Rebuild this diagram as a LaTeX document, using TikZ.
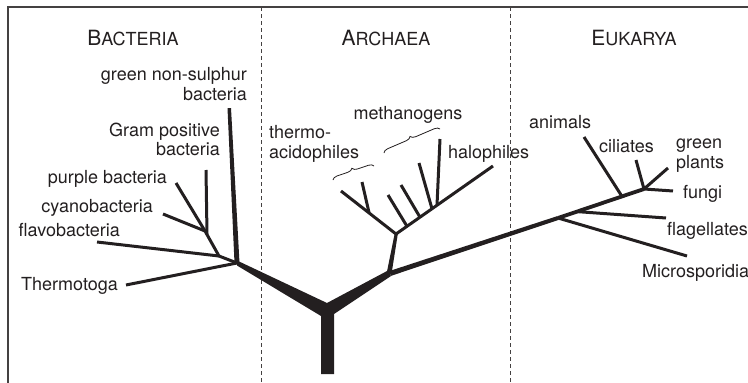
\documentclass[tikz,border=0pt]{standalone}
\usepackage{fontspec}
\setmainfont{TeX Gyre Heros}
\usetikzlibrary{decorations.pathreplacing}
\definecolor{ink}{RGB}{35,31,32}
\newcommand\domname[2]{{\fontsize{21}{21}\selectfont #1}{\fontsize{18}{21}\selectfont #2}}
\begin{document}
\begin{tikzpicture}[x=1pt,y=-1pt,
  br/.style={draw=ink,line width=3pt,line cap=butt,line join=round},
  brthick/.style={draw=ink,line width=3.8pt,line cap=butt,line join=round},
  lbl/.style={inner sep=0pt,text=ink,font=\fontsize{18}{19.5}\selectfont},
  head/.style={inner sep=0pt,text=ink},
  sepline/.style={draw=ink!85,line width=1pt,dash pattern=on 4pt off 3pt},
  frameline/.style={draw=ink!85,line width=1.2pt},
  brc/.style={draw=ink,line width=0.8pt,decorate,decoration={brace,amplitude=5pt}}]
\useasboundingbox (0,0) rectangle (748,383);

% frame and separators
\coordinate (fTL) at (8,7);
\coordinate (fTR) at (748,7);
\coordinate (fBL) at (8,383);
\draw[frameline] (fTR) -- (fTL) -- (fBL);
\coordinate (s1t) at (261,7);
\coordinate (s1b) at (261,383);
\coordinate (s2t) at (510,7);
\coordinate (s2b) at (510,383);
\draw[sepline] (s1t) -- (s1b);
\draw[sepline] (s2t) -- (s2b);

% headings
\node[head,anchor=base] (hB) at (133,45) {\domname{B}{ACTERIA}};
\node[head,anchor=base] (hA) at (386,45) {\domname{A}{RCHAEA}};
\node[head,anchor=base] (hE) at (634,45) {\domname{E}{UKARYA}};

% trunk and the two main limbs
\fill[ink] (237,260.5) -- (327,303) -- (388,270.5) -- (391,276) -- (334,314)
  -- (334,374) -- (321,374) -- (321,316) -- (237,265.5) -- cycle;

% ---------------- Bacteria
\coordinate (b0) at (237,263);
\coordinate (b1) at (219,256);
\coordinate (b2) at (205,231);
\coordinate (tThermo) at (126,285);
\coordinate (tFlavo) at (97,242);
\coordinate (tCyano) at (163,214);
\coordinate (tPurple) at (176,183);
\coordinate (tGram) at (206,170);
\coordinate (gGram) at (207,234);
\draw[br] (tPurple) -- (b2) -- (b1) -- (b0);
\draw[br] (tCyano) -- (b2);
\draw[br] (tFlavo) -- (b1);
\draw[br] (tThermo) -- (b0);
\draw[br] (tGram) -- (gGram);
\fill[ink] (227.5,108) -- (231,108) -- (239.5,263) -- (234.5,263) -- cycle;

\node[lbl,anchor=base east,align=right] (lGreen) at (247,100) {green non-sulphur\\bacteria};
\node[lbl,anchor=base east,align=right] (lGram) at (220,155.5) {Gram positive\\bacteria};
\node[lbl,anchor=base east] (lPurple) at (167,183) {purple bacteria};
\node[lbl,anchor=base east] (lCyano) at (153,212) {cyanobacteria};
\node[lbl,anchor=base east] (lFlavo) at (120,236) {flavobacteria};
\node[lbl,anchor=base east] (lThermo) at (118,290) {Thermotoga};

% ---------------- Archaea
\coordinate (a1) at (389,273);
\coordinate (a0) at (396,234);
\fill[ink] (386.5,274) -- (391.5,274) -- (397.8,234) -- (394.6,234) -- cycle;
\coordinate (aL) at (341,191);
\coordinate (aR) at (493,166);
\draw[br] (aL) -- (a0) -- (aR);
\coordinate (aL1) at (369,212.5);
\coordinate (tA1) at (362,182);
\draw[br] (aL1) -- (tA1);
\coordinate (aR1) at (407,226.3);
\coordinate (tA2) at (388,195);
\coordinate (aR2) at (420,217.2);
\coordinate (tA3) at (401,185);
\coordinate (aR3) at (432,208.8);
\coordinate (tA4) at (419,163);
\coordinate (aR4) at (437,205.3);
\coordinate (tA5) at (440,139);
\draw[br] (aR1) -- (tA2);
\draw[br] (aR2) -- (tA3);
\draw[br] (aR3) -- (tA4);
\draw[br] (aR4) -- (tA5);

\coordinate (brT1) at (333,180);
\coordinate (brT2) at (374,166);
\draw[brc] (brT1) -- (brT2);
\coordinate (brM1) at (384,153);
\coordinate (brM2) at (440,129);
\draw[brc] (brM1) -- (brM2);

\node[lbl,anchor=base] (lMeth) at (408,119) {methanogens};
\node[lbl,anchor=base west,align=left] (lTA) at (269,158) {thermo-\\acidophiles};
\node[lbl,anchor=base west] (lHalo) at (448,158) {halophiles};

% ---------------- Eukarya
\coordinate (e0) at (558,218);
\coordinate (e1) at (644,189);
\fill[ink] (389.2,271.1) -- (557.4,216.1) -- (558.6,219.9) -- (390.8,275.9) -- cycle;
\draw[brthick] (e0) -- (e1);
\coordinate (eF) at (577,211.6);
\coordinate (tFlag) at (666,218);
\coordinate (tMicro) at (687,256);
\coordinate (eA) at (622,196.4);
\coordinate (tAnim) at (584,137);
\coordinate (tCil) at (636,160);
\coordinate (tPlant) at (668,168);
\coordinate (tFungi) at (673,191);
\draw[br] (eF) -- (tFlag);
\draw[br] (e0) -- (tMicro);
\draw[br] (eA) -- (tAnim);
\draw[br] (e1) -- (tCil);
\draw[br] (e1) -- (tPlant);
\draw[br] (e1) -- (tFungi);

\node[lbl,anchor=base west] (lAnim) at (529,128) {animals};
\node[lbl,anchor=base west] (lCil) at (599,152) {ciliates};
\node[lbl,anchor=base west,align=left] (lPlant) at (676,168) {green\\plants};
\node[lbl,anchor=base west] (lFungi) at (683,198) {fungi};
\node[lbl,anchor=base west] (lFlag) at (667,235) {flagellates};
\node[lbl,anchor=base west] (lMicro) at (642,277) {Microsporidia};
\end{tikzpicture}
\end{document}
